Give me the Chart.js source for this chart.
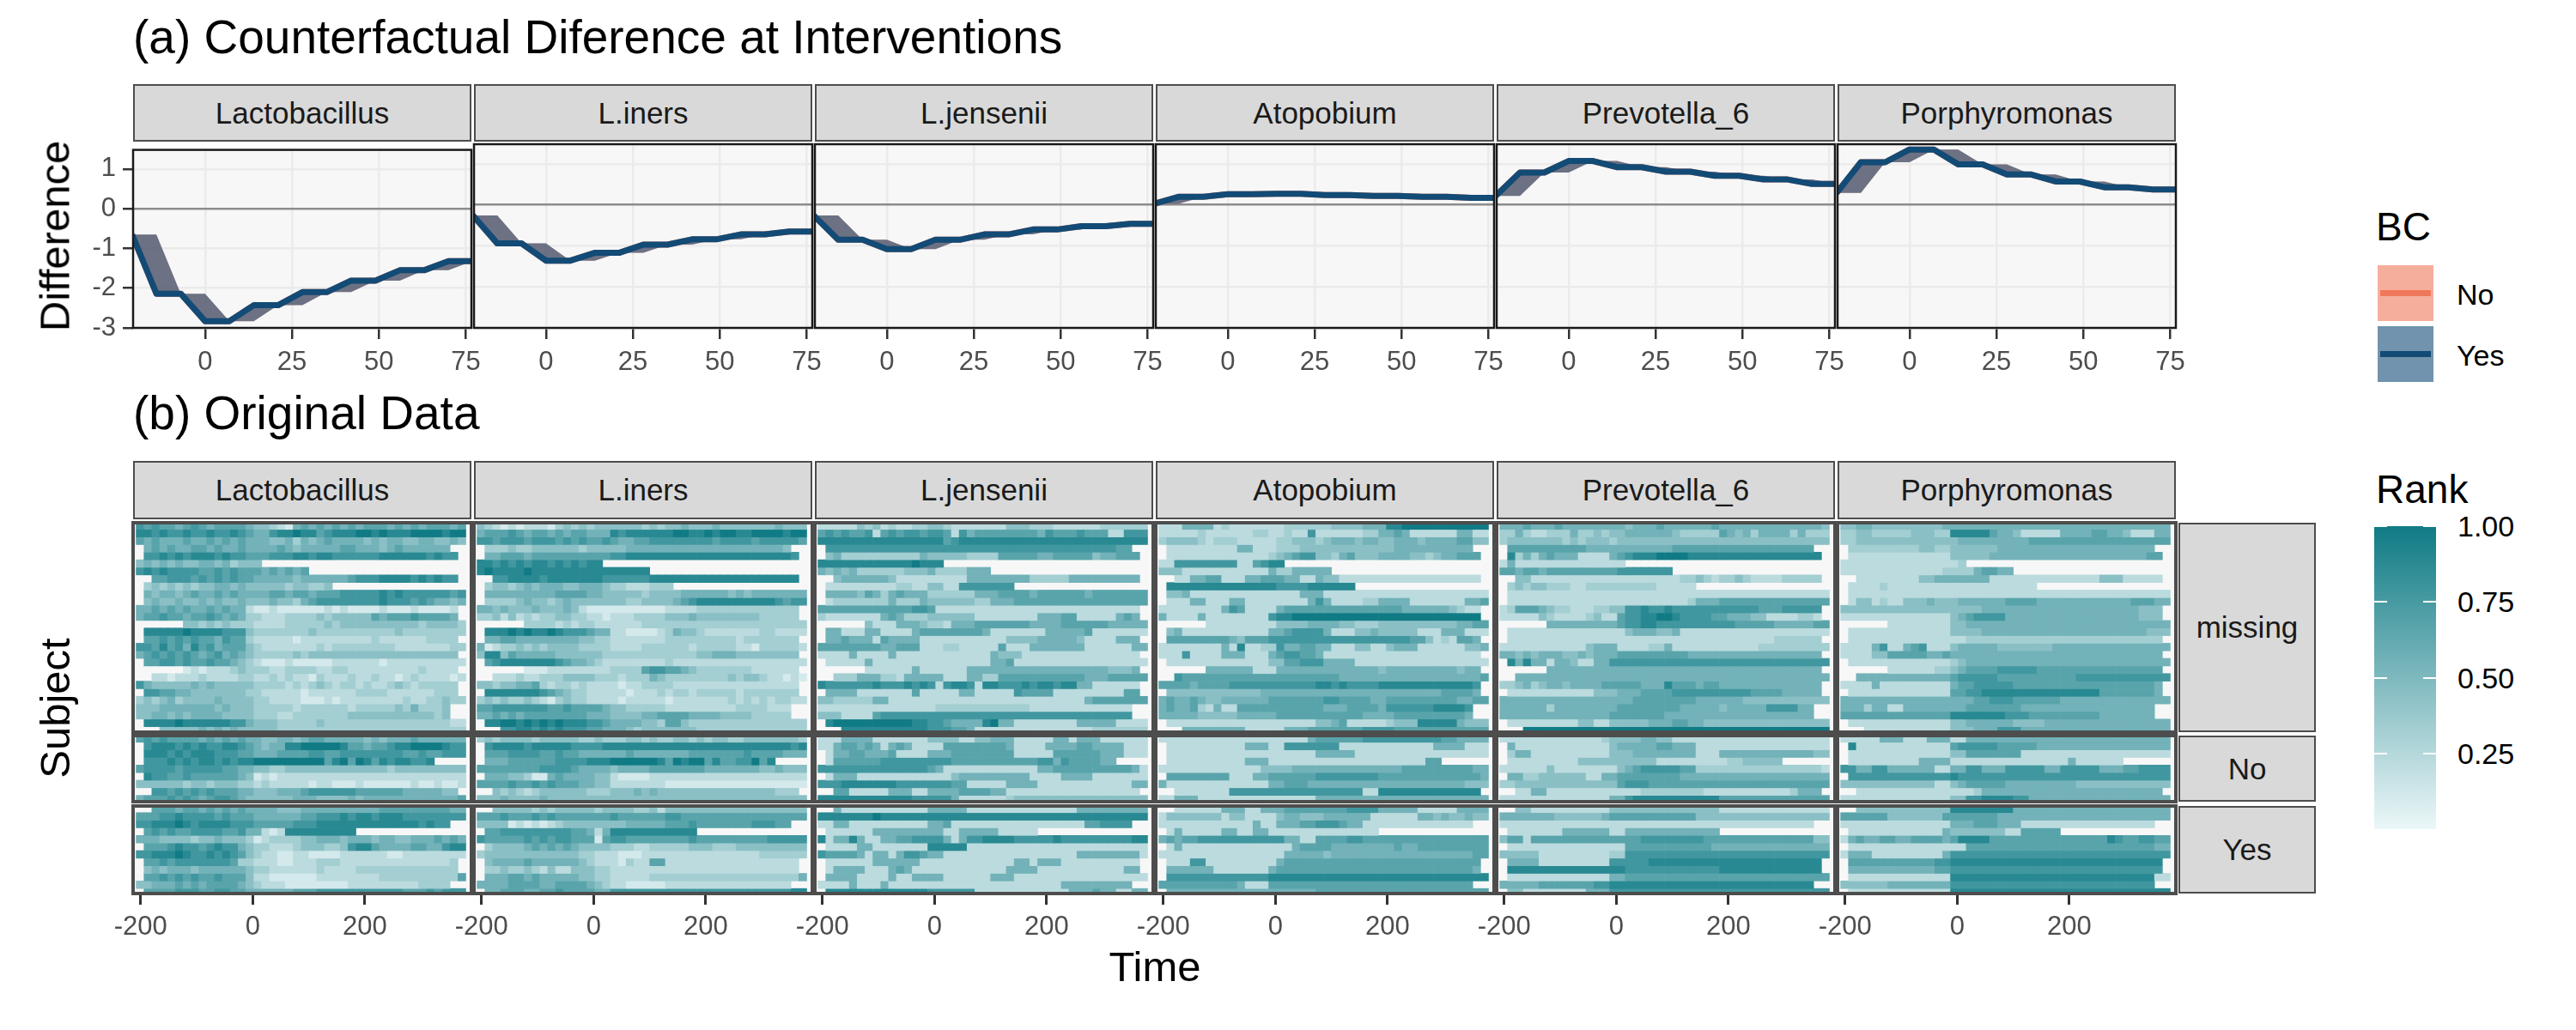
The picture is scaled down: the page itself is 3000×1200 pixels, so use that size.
<!DOCTYPE html>
<html><head><meta charset="utf-8">
<script src="https://cdn.jsdelivr.net/npm/chart.js"></script>
<style>
html,body{margin:0;padding:0;background:#fff;overflow:hidden;}
#root{position:relative;width:3000px;height:1200px;overflow:hidden;font-family:'Liberation Sans',Arial,Helvetica,sans-serif;background:#fff;}
canvas{position:absolute;}
.t{position:absolute;white-space:nowrap;line-height:1;}
.strip{position:absolute;background:#D9D9D9;border:2px solid #4D4D4D;box-sizing:border-box;display:flex;align-items:center;justify-content:center;font-size:35px;color:#1A1A1A;white-space:nowrap;}
</style></head><body><div id="root"></div>
<script>
// ---------------- DATA ----------------
const taxa = ['Lactobacillus','L.iners','L.jensenii','Atopobium','Prevotella_6','Porphyromonas'];
const bcGroups = ['missing','No','Yes'];
const bcLegend = ['No','Yes'];

// (a) counterfactual difference, x = days around intervention
const diffTimes = [-21,-14,-7,0,7,14,21,28,35,42,49,56,63,70,77];
const diffLactobacillus = [-0.65,-2.14,-2.14,-2.83,-2.83,-2.43,-2.43,-2.10,-2.10,-1.81,-1.81,-1.55,-1.55,-1.32,-1.32];
const diffLiners        = [-0.26,-0.94,-0.94,-1.36,-1.36,-1.17,-1.17,-0.97,-0.97,-0.84,-0.84,-0.72,-0.72,-0.65,-0.65];
const diffLjensenii     = [-0.26,-0.85,-0.85,-1.08,-1.08,-0.85,-0.85,-0.72,-0.72,-0.60,-0.60,-0.52,-0.52,-0.46,-0.46];
const diffAtopobium     = [0.03,0.20,0.20,0.26,0.26,0.27,0.27,0.24,0.24,0.22,0.22,0.20,0.20,0.17,0.17];
const diffPrevotella6   = [0.22,0.79,0.79,1.07,1.07,0.92,0.92,0.81,0.81,0.71,0.71,0.62,0.62,0.51,0.51];
const diffPorphyromonas = [0.29,1.04,1.04,1.35,1.35,0.99,0.99,0.74,0.74,0.57,0.57,0.43,0.43,0.375,0.375];
const diffXTicks = [0,25,50,75];
const diffYTicks = [-3,-2,-1,0,1];

// (b) heatmap: time bin centres (days) and rank levels 0-9 (rank = level/9), '.' = no sample
const timeBins = [-201,-187,-173,-159,-145,-131,-117,-103,-89,-75,-61,-47,-33,-19,-5,9,23,37,51,65,79,93,107,121,135,149,163,177,191,205,219,233,247,261,275,289,303,317,331,345,359,373];
const timeTicks = [-200,0,200];
const rankTicks = [1.00,0.75,0.50,0.25];

const heatLactobacillusMissing = [
"76766567656666 54432156565656 56665656566656",
"88787787787787 65578898867888 99898889999899",
"65655565565656 55544535456555 54545544554454",
".5656556656556 55556545555566 555456555555..",
".7787878887877 66677788788777 7778888887877.",
"45454544554534 44............ ..............",
"78787777667676 66565656...... ..............",
"..667776767676 65555545555556 7778888787877.",
".3434343445545 44444344334... ..............",
".5455456556565 55566566566677 77787877777767",
".4544544545445 44454435677777 77787776765545",
"55656565565655 21121111112121 1112111211112.",
"56676656676565 33222333343444 4465666766665.",
"......44343433 32222333334344 44444444344443",
".8888898888777 43333333433333 33333433333333",
".6676767665766 32222212222222 2232222223333.",
"77686758675666 43222222232333 33333222222233",
"56767676567565 43333343444444 4444444444444.",
".6677676676654 32111211111222 22212222222222",
"......12122234 33322333322332 2222222232222.",
"..221222322223 32232322132223 22322123222212",
"75444445454444 43333232343233 2322343233333.",
".7766554444444 33222221222222 3333222222333.",
"34345344445444 43322221112122 22222232233433",
"44455555554544 43333323333332 333334353334..",
"44554545555444 43332233333334 444444444434..",
".8888988888877 54443333343333 33333333333322",
"...44444545454 44443333333333 33333333333333"];
const heatLactobacillusNo = [
"67676666565656 55445545665555 54545556555555",
".7888787877887 65455889999986 65667889999877",
".8887878887776 65556666776677 77777766766777",
".7778787887878 89999999996896 9868788778....",
"67777677777665 54433444444444 44443444444444",
".8776676666665 41212222222222 22222222222222",
"44444434434443 32322222122111 21111112112112",
"..776767676665 54445556777777 6666665555544.",
"56667676567765 44444455544445 45555555555556"];
const heatLactobacillusYes = [
"..666566565656 55554445555555 55566666666655",
"66677877776766 65555556677787 88788877777777",
"77888987888877 76666677788888 888888887877..",
".6767667777667 55212888888888 ..............",
"55544443445444 31233334455545 55455445556565",
".6667877678775 43322234443347 88655556655788",
"77888987787876 43221122111122 22221122222222",
".6676777777763 32221122233322 2222222222223.",
".4545554555555 43322222232222 3333333333333.",
".6676767667666 42211111122222 22233333333336",
"44555656566665 43222111111112 222222223333..",
".6666777667766 55555566677777 77777766676777"];

const heatLinersMissing = [
"43212122213434 34444443434454 44544444445444",
"56667656656566 55587888888998 89899889999899",
"77677767776767 66765566777777 77677776777776",
".3334334444443 44444555555555 555555555554..",
".5566656666666 66677888888888 8888888888887.",
"88787878878787 88............ ..............",
"89888898888888 88888888...... ..............",
"..778888788888 88777777888888 8888888888888.",
".3443454555445 55433222333... ..............",
".5555555556666 55444443444455 55554545555555",
".3333454434544 44444334444567 88888888887677",
"55454445444542 11111111112222 3333333333333.",
"33424232334433 22122233334445 4444444433333.",
"......33332323 32222223333333 33333333333333",
".8889898898777 65522111123544 32222222332222",
".5566555555554 43322222223333 3333323333333.",
"51233434344443 33322223333332 33333221333332",
"48846555554444 44333333333333 4455544444444.",
".6788888887655 43222222223222 22222222222222",
"......11122222 22233336776654 3333333222222.",
"..222322333444 43332333543333 33334344322121",
"44344556323323 22221223333222 2222222222222.",
".8888888765433 22222122232332 3333323333333.",
"34343343213433 22221222221222 22223232323322",
"66777777766766 66544333332222 222223333222..",
"55656566666666 55544445566665 555444433333..",
".8899898989888 77655554436643 33333333333333",
"...77887878777 66555434444444 33333333333333"];
const heatLinersNo = [
"34344443444443 34333443433443 43443344444443",
".7888878888877 77888888888888 88888888888878",
".6667777667665 55555655555556 66666676666555",
".5556666667777 88899999986989 9686677968....",
"66666666777765 55545555666666 65555555445444",
".5554431156555 54421111222222 22222222222222",
"66667667676665 54422222221111 11111111111111",
"..434323444444 33344454544444 4444444444333.",
"44454444544444 44444444444444 44444444444444"];
const heatLinersYes = [
"..444443434444 43444433424444 44444444444444",
"66676667676666 66676666667766 66666666666666",
"44441212123444 44444555556667 666666677766..",
".6677777777766 52588888888888 ..............",
"76666676767766 61677666666667 66666666677777",
".3444456565654 44433322333334 44333444444444",
"34444444444443 32221112222222 22222222333333",
".4555565555554 32221322662222 2222222222222.",
".3343343242244 43322222222222 2222222222222.",
".5556656555554 43322222333333 33333333333335",
"55556666556666 54322111112222 222222222222..",
".5566655667666 65577777777777 77777777777788"];

const heatLjenseniiMissing = [
"22222434232233 44322222224443 33222222333333",
"67676672676776 77627566666666 57666766622777",
"88888888888888 88678888888888 88888888888888",
".7777777777777 77777777777777 777777777766..",
".4533333333335 44444333366666 5566666455666.",
"88888888888898 88............ ..............",
"54545333333444 53333555...... ..............",
"..455555542222 22222555555553 3333555555555.",
".2222222223322 44227777777... ..............",
".5555465356555 33333355566665 66666656666666",
".2333333353335 44444433555666 66666666666666",
"66666666666677 62222222222222 2222222222222.",
"32222222565333 44444422222222 5556622222565.",
"......42225554 33255566666665 55566666655555",
".5522255222256 66666665222222 25555562222222",
".5565552655552 22222222224444 5555542222555.",
"66666666556662 22332222262225 55555522222255",
"22225222252222 22222222544422 2222222222222.",
".2222252222222 22222222556222 22222222222222",
"......22222252 22222555555555 5555555554445.",
"..333555332555 55222553366666 66666655566666",
"87777778777878 72788728877787 8878855222222.",
".5555222222262 22225522222766 6622222222266.",
"44333335522222 22222222222222 22222256666666",
"22222222222222 23333333333332 222222222222..",
"44422226777777 77777777777777 777777777777..",
".8999999999988 77655558955222 22222555552222",
"...88888888888 77766522222222 22222223333333"];
const heatLjenseniiNo = [
"22255552222222 44442244555222 22552555222222",
"22566565256522 22666666665222 25555665555222",
".2556655562222 55566666666222 22666666555222",
".2666666777777 77766666666666 7757666655....",
"77777777777777 65222222222222 55666666666652",
".2555222222222 22245555555552 22255552222222",
"77788888887777 77766222225555 22222222222255",
"..662222255522 55556666552222 2222222222222.",
"88888888888877 77752222223444 44444444444444"];
const heatLjenseniiYes = [
"..522222222222 55555222222222 22222555555555",
"88888889888888 88888888888888 88888888888888",
"22552222222222 55622222222222 222222667777..",
".2222225555555 55225555522222 ..............",
"82558522556677 77525778888777 77877777777788",
".2222552222222 88888222222222 22222222222222",
"76666525525776 55222222222222 22222555555552",
".2222225555552 22222222222552 5552222222222.",
".2555522256522 22222222225555 2222222222255.",
".5555222252255 55222222555222 22222222222222",
"22225222522222 22222222222222 222555555555..",
".8888888888888 77777722222222 22225556552255"];

const heatAtopobiumMissing = [
"22255552322222 22333333444455 58899999999999",
"22222322222233 22322722222233 55652222225522",
"34444323332222 23344434555455 44555455556644",
".2222222225522 23334444444444 445555555555..",
".2222222222222 34567744356444 5555443455666.",
"22777777772267 88............ ..............",
"44422222222222 53355555...... ..............",
"..225566222556 66552254422222 2222222222222.",
".8888888888888 87777888888... ..............",
".4452222222222 22225552222222 22222222222222",
".2225522255222 22222575222233 55552222222556",
"22222222576222 25666666666666 6665555554322.",
"52222522222222 78899999999999 9999999999999.",
"......22222222 24444555544333 44444444445566",
".4522222222222 55677775222445 44444222555222",
".6666666654666 77777777777777 7777664232665.",
"22222222528223 37556655222442 24555222222445",
"22272222555222 56776652222222 2222222222222.",
".2222222222222 44667775555222 22222222222222",
"......55555522 25555555555555 4555555555455.",
"..766666666666 66666666655555 55555555555556",
"66665666677777 77777788787777 8888888888887.",
".4444444444445 55555555555555 5555555566665.",
"56556544555555 66666667766665 56666666665566",
"56556325226666 66666665556666 577777788887..",
"55555444445555 56666666666655 556666666665..",
".2222222222222 22222244562222 23444888885444",
"...55555555222 22555666666677 77666666666666"];
const heatAtopobiumNo = [
"22222222222222 22222566666677 77777777665555",
".2222222222555 22777777722222 22222225555222",
".2222222222222 22222255555222 22222222222222",
".2222222222555 22222222222222 22222266......",
"22222222222224 44455555555555 55566666666655",
".6666666622255 66666677777777 66666666666665",
"52222222222222 55666555555555 55555555555444",
"..222222277777 77777777777722 8888888888888.",
"22555222222222 22222255555555 55555555555555"];
const heatAtopobiumYes = [
"..222222555225 55666666667777 55555222225555",
"24444444244222 24554445555552 22222554544544",
"22222222222252 25556677765522 222222222222..",
".2522222552255 22222222222222 ..............",
"56566777777777 77552266667766 66666666666666",
".2522222222222 22256666555555 55655666666666",
"22222222222222 22555554555555 55555555555566",
".2227722222222 25666666666666 6666666666666.",
".5555552222222 56666666666666 6666666666665.",
".7777777777777 88888888888888 88888888888888",
"66666666665222 66666666666666 666666666666..",
".5555555555555 55555566666666 66666666666666"];

const heatPrevotella6Missing = [
"55565556555555 55455565555556 55555555555554",
"33532233353343 44555555433333 65453555535333",
"34444444343444 34444444444444 44444444444444",
".6666666666555 55555555666666 666666666666..",
".8353565552222 56788899998888 8888888888888.",
"25222222222222 22............ ..............",
"66566566666666 67777777...... ..............",
"..442222222222 22222222233432 3343222233333.",
".3434433322333 33333322222... ..............",
".2222222222222 22222222222222 22222222222222",
".2222222222222 22222222223555 66666666666666",
"23666543322233 44778778777777 7777766677777.",
"22222432222342 26778899877776 6555442222332.",
"......55555555 56778877777777 77666665555566",
".2222222222222 22455544522222 22222222222222",
".2222222222222 22222222222222 2222222333333.",
"22222222222455 52222335222222 22222333333333",
"55454555445455 56666666665555 5555555555555.",
".8585525542255 77777777777777 77777777777777",
"......55555555 55555555555555 5555555555555.",
"..555555555555 55555555555555 55555555555555",
"33453455455556 66665558666566 5555555555555.",
".2222222222244 45556666777777 7777666655555.",
"55555555555555 55566666666555 55544444444444",
"55555535555555 56666666655555 455555777755..",
"55555555555555 66666665555555 555555555555..",
".2222222224422 44444555665544 44444444444444",
"...99999999999 99999999999999 99999999999999"];
const heatPrevotella6No = [
"22222222222223 44445544222222 22222222222222",
".5222222222222 45555566555222 22222222222222",
".3552222222222 44455555555222 55555555555544",
".2222222224444 44444422222222 23344444......",
"22222242222222 24567777766333 33333333333332",
".5533444444225 56666666655555 55555555555555",
"33444444444444 46777666666666 66666666666666",
"..225522222222 22223333333322 2222222223555.",
"22222222222222 55788888888888 66666666666666"];
const heatPrevotella6Yes = [
"..442222222222 44444444444444 22222222222222",
"55555554444445 66666666666444 44444444444444",
"22222222222222 22222222222222 222222222222..",
".2222222555555 22555555555555 ..............",
"46626666666666 66667777777766 66666666666644",
".2222222222222 22666666666665 55555555555555",
"44444222222222 33777777777777 77777777777777",
".5555222222222 77777888888888 8888888888888.",
".8888888888888 88777777777777 8888888888888.",
".2222222222222 55666666666666 66666666666666",
"55555666666677 88888888888888 888888888888..",
".4422222222555 77777777777777 77777777777777"];

const heatPorphyromonasMissing = [
"44554444444445 55555555555555 55555555555555",
"33443333344433 88888655422222 55556655422255",
"33444444444444 45555555556666 66666666666666",
".3333333334433 44444455555555 555555555555..",
".2222222222222 44444555555555 5555555555566.",
"22222222222222 23............ ..............",
"22222222222223 33356655...... ..............",
"..222222224455 55555222222222 2222244422222.",
".2222322222222 22222222222... ..............",
".2222222222222 22222222222222 22222222222222",
".2442322444544 45555556666555 55555555566655",
"44444444444444 44445555555555 5555555555444.",
"22222222222222 45677775555555 5555555555444.",
"......22222222 44555555555555 55555555555555",
".2222222222222 44445555555555 55555555555444",
".2222222222222 22333333333333 3333333333333.",
"22225722567222 45555544444445 55555555555555",
"22224466666556 55555555555555 5555555555555.",
".2222222222222 34555555555555 55555555555555",
"......22222233 45666677777666 6666666666666.",
"..555555555555 67777766666666 66777777777777",
"22225222222222 56677777666666 6666666666665.",
".2222222222222 66778888888888 8888866666665.",
"55555555555555 55566777666666 55555555555555",
"55535522555555 55666666655555 555555555555..",
"66666666666666 88888887776666 666665555555..",
".2222222222222 44555555444455 55555555555555",
"...22222222222 44455577755555 55555555555555"];
const heatPorphyromonasNo = [
"22222555222555 22555555555555 55555555555555",
".8222222222222 67777766666555 55555555555555",
".2222222222222 44666666622222 22222222222222",
".2222222225555 22222222222222 25222222......",
"77557755555522 55775557777755 77777555667777",
".7777777777777 87777777777777 77777777777777",
"44444444444422 45666665555555 55444444444444",
"..222222222222 22235555555555 5555555555555.",
"22222222222222 44778888775555 55555555555555"];
const heatPorphyromonasYes = [
"..444444444444 88888888555555 55555555555555",
"66666644444446 66666655555555 55555555555555",
"22222222222222 55566655522222 222222222222..",
".2222222222225 44444442266666 ..............",
"25655665566665 68888666666666 66666687667766",
".2222222222222 22666666666666 66666666666655",
"25552222222225 77777777777777 77777777777777",
".6666666666677 88888888888888 8888888888888.",
".5555555555566 77777777777777 7777777777777.",
".2222222222222 88888888888888 88888888888822",
"44444455555555 77777777777777 777777777777..",
".2222222222222 88888888888888 88888888888888"];

// ---------------- STYLE / LAYOUT ----------------
const diffSeries = [diffLactobacillus,diffLiners,diffLjensenii,diffAtopobium,diffPrevotella6,diffPorphyromonas];
const heatSeries = [
  [heatLactobacillusMissing,heatLactobacillusNo,heatLactobacillusYes],
  [heatLinersMissing,heatLinersNo,heatLinersYes],
  [heatLjenseniiMissing,heatLjenseniiNo,heatLjenseniiYes],
  [heatAtopobiumMissing,heatAtopobiumNo,heatAtopobiumYes],
  [heatPrevotella6Missing,heatPrevotella6No,heatPrevotella6Yes],
  [heatPorphyromonasMissing,heatPorphyromonasNo,heatPorphyromonasYes]];

const NO_COL = 'rgb(240,120,90)', NO_FILL = 'rgba(240,120,90,0.6)';
const YES_COL = 'rgb(18,75,118)', YES_FILL = 'rgba(18,75,118,0.6)';
const RANK_LOW = [236,247,248], RANK_HIGH = [16,123,133];
function rankColor(v){ const c = RANK_LOW.map((l,i)=>Math.round(l+(RANK_HIGH[i]-l)*v)); return 'rgb('+c.join(',')+')'; }

const PL = 155, PITCH = 397, PW = 394;
const A_TOP = 168, A_H = 214;
const ROW_PX = 8.84, Y_MIN = 0.62;
const B_PANELS = [{top:609,h:244},{top:857,h:77},{top:939,h:102}];
const FONT = "'Liberation Sans', Arial, Helvetica, sans-serif";
Chart.defaults.font.family = FONT;

const root = document.getElementById('root');
function mkCanvas(l,t,w,h){ const c=document.createElement('canvas'); c.width=w; c.height=h; c.style.left=l+'px'; c.style.top=t+'px'; c.style.width=w+'px'; c.style.height=h+'px'; root.appendChild(c); return c; }
function mkText(txt, css, cls){ const d=document.createElement('div'); d.className=cls||'t'; d.textContent=txt; Object.assign(d.style, css); root.appendChild(d); return d; }
function mkBox(css){ const d=document.createElement('div'); d.style.position='absolute'; Object.assign(d.style, css); root.appendChild(d); return d; }

const panelDeco = {
  id:'panelDeco',
  beforeDraw(chart, args, o){ const a=chart.chartArea, c=chart.ctx; c.save(); c.fillStyle=o.bg; c.fillRect(a.left,a.top,a.right-a.left,a.bottom-a.top); c.restore(); },
  afterDraw(chart, args, o){ const a=chart.chartArea, c=chart.ctx; c.save(); c.strokeStyle=o.border; c.lineWidth=o.bw; c.strokeRect(a.left,a.top,a.right-a.left,a.bottom-a.top); c.restore(); }
};
const baseOpts = { responsive:false, animation:false, devicePixelRatio:1, events:[] };

// ---------------- (a) difference panels ----------------
function diffChart(i){
  const vals = diffSeries[i];
  const pts = diffTimes.map((t,k)=>({x:t, y:vals[k]}));
  const lag = diffTimes.map((t,k)=>({x:t, y:vals[Math.max(0,k-1)]}));
  const yW = i===0 ? 155 : 0, padL = i===0 ? 0 : 6, padR = 24, padT = 20, axisH = 62;
  const cv = mkCanvas(PL + i*PITCH - yW - padL, A_TOP - padT, padL + yW + PW + padR, padT + A_H + axisH);
  const hidden = {borderWidth:0, borderColor:'rgba(0,0,0,0)', pointRadius:0, fill:false};
  new Chart(cv, {
    type:'line',
    data:{datasets:[
      Object.assign({label:'No band', data:lag, order:3}, hidden),
      {label:'No', data:pts, borderColor:NO_COL, borderWidth:7, pointRadius:0, fill:{target:0}, backgroundColor:NO_FILL, order:2, borderJoinStyle:'round', clip:0},
      Object.assign({label:'Yes band', data:lag, order:1}, hidden),
      {label:'Yes', data:pts, borderColor:YES_COL, borderWidth:7, pointRadius:0, fill:{target:2}, backgroundColor:YES_FILL, order:0, borderJoinStyle:'round', clip:0}
    ]},
    options: Object.assign({}, baseOpts, {
      layout:{padding:{left:padL, top:padT, right:padR, bottom:0}},
      plugins:{legend:{display:false}, tooltip:{enabled:false}, panelDeco:{bg:'#F7F7F7', border:'#1A1A1A', bw:2.5}},
      scales:{
        x:{type:'linear', min:-20.7, max:76.6,
           afterBuildTicks:s=>{ s.ticks = diffXTicks.map(v=>({value:v})); },
           afterFit:s=>{ s.height = axisH; },
           grid:{color:'#EBEBEB', lineWidth:2.5, drawTicks:true, tickLength:13, tickColor:'#333333', tickWidth:2.5},
           border:{display:false},
           ticks:{color:'#4D4D4D', font:{size:31}, padding:9, maxRotation:0, autoSkip:false}},
        y:{type:'linear', min:-3, max:1.48,
           afterBuildTicks:s=>{ s.ticks = diffYTicks.map(v=>({value:v})); },
           afterFit:s=>{ s.width = yW; },
           grid:{color:c=> (c.tick && c.tick.value===0) ? '#8C8C8C' : '#EBEBEB', lineWidth:2.5, drawTicks:i===0, tickLength:12, tickColor:'#333333', tickWidth:2.5},
           border:{display:false},
           ticks:{display:i===0, color:'#4D4D4D', font:{size:31}, padding:8, autoSkip:false}}
      }
    }),
    plugins:[panelDeco]
  });
}

// ---------------- (b) heatmap panels ----------------
function heatChart(ti, gi){
  const rows = heatSeries[ti][gi];
  const g = B_PANELS[gi], bottom = gi===2;
  const padL = bottom ? 40 : 5, padR = 5, padT = 5, padB = bottom ? 0 : 5, axisH = bottom ? 62 : 0;
  const cv = mkCanvas(PL + ti*PITCH - padL, g.top - padT, padL + PW + padR, padT + g.h + padB + axisH);
  const datasets = rows.map((row, r) => {
    const s = row.replace(/ /g,'');
    const data = [], colors = [];
    for (let k = 0; k < timeBins.length; k++) {
      const ch = s[k];
      if (!ch || ch === '.') continue;
      data.push({x:[timeBins[k]-7, timeBins[k]+7], y:r+1});
      colors.push(rankColor(Number(ch)/9));
    }
    return {label:'subject '+(r+1), data, backgroundColor:colors, borderWidth:0, grouped:false, barPercentage:1, categoryPercentage:1};
  });
  new Chart(cv, {
    type:'bar',
    data:{datasets},
    options: Object.assign({}, baseOpts, {
      indexAxis:'y',
      layout:{padding:{left:padL, top:padT, right:padR, bottom:padB}},
      plugins:{legend:{display:false}, tooltip:{enabled:false}, panelDeco:{bg:'#F7F7F7', border:'#4D4D4D', bw:4}},
      scales:{
        x:{type:'linear', min:-213.5, max:390, display:bottom,
           afterBuildTicks:s=>{ s.ticks = timeTicks.map(v=>({value:v})); },
           afterFit:s=>{ if (bottom) s.height = axisH; },
           grid:{drawOnChartArea:false, drawTicks:true, tickLength:13, tickColor:'#333333', tickWidth:3},
           border:{display:false},
           ticks:{color:'#4D4D4D', font:{size:31}, padding:8, maxRotation:0, autoSkip:false}},
        y:{type:'linear', reverse:true, min:Y_MIN, max:Y_MIN + g.h/ROW_PX, display:false,
           afterBuildTicks:s=>{ s.ticks = []; }}
      }
    }),
    plugins:[panelDeco]
  });
}

// ---------------- build ----------------
for (let i = 0; i < taxa.length; i++) {
  mkText(taxa[i], {left:(PL+i*PITCH)+'px', top:'98px', width:PW+'px', height:'67px'}, 'strip');
  mkText(taxa[i], {left:(PL+i*PITCH)+'px', top:'537px', width:PW+'px', height:'68px'}, 'strip');
  diffChart(i);
  for (let gi = 0; gi < 3; gi++) heatChart(i, gi);
}
// right facet strips
for (let gi = 0; gi < 3; gi++) {
  const g = B_PANELS[gi];
  mkText(bcGroups[gi], {left:'2537px', top:g.top+'px', width:'160px', height:g.h+'px'}, 'strip');
}

// titles
mkText('(a) Counterfactual Diference at Interventions', {left:'155px', top:'16px', fontSize:'55px', color:'#000'});
mkText('(b) Original Data', {left:'155px', top:'454px', fontSize:'55px', color:'#000'});
mkText('Difference', {left:'64px', top:'275px', fontSize:'49px', color:'#000', transform:'translate(-50%,-50%) rotate(-90deg)'});
mkText('Subject', {left:'64px', top:'825px', fontSize:'49px', color:'#000', transform:'translate(-50%,-50%) rotate(-90deg)'});
mkText('Time', {left:'1345px', top:'1102px', fontSize:'49px', color:'#000', transform:'translateX(-50%)'});

// BC legend
mkText('BC', {left:'2767px', top:'241px', fontSize:'46px', color:'#000'});
[[NO_FILL, NO_COL, 309],[YES_FILL, YES_COL, 380]].forEach(([fill, col, top], k) => {
  mkBox({left:'2769px', top:top+'px', width:'65px', height:'65px', background:fill});
  mkBox({left:'2772px', top:(top+29)+'px', width:'59px', height:'7px', background:col});
  mkText(bcLegend[k], {left:'2861px', top:(top+17)+'px', fontSize:'34px', color:'#000'});
});

// Rank colourbar legend
mkText('Rank', {left:'2767px', top:'547px', fontSize:'46px', color:'#000'});
const BAR_TOP = 613, BAR_H = 353;
mkBox({left:'2765px', top:BAR_TOP+'px', width:'72px', height:BAR_H+'px', background:'linear-gradient(to top,'+rankColor(0)+','+rankColor(1)+')'});
rankTicks.forEach(v => {
  const y = BAR_TOP + (1 - v) * BAR_H;
  mkBox({left:'2765px', top:(y-1)+'px', width:'15px', height:'2px', background:'#fff'});
  mkBox({left:'2822px', top:(y-1)+'px', width:'15px', height:'2px', background:'#fff'});
  mkText(v.toFixed(2), {left:'2862px', top:(y-17)+'px', fontSize:'34px', color:'#000'});
});
</script></body></html>
